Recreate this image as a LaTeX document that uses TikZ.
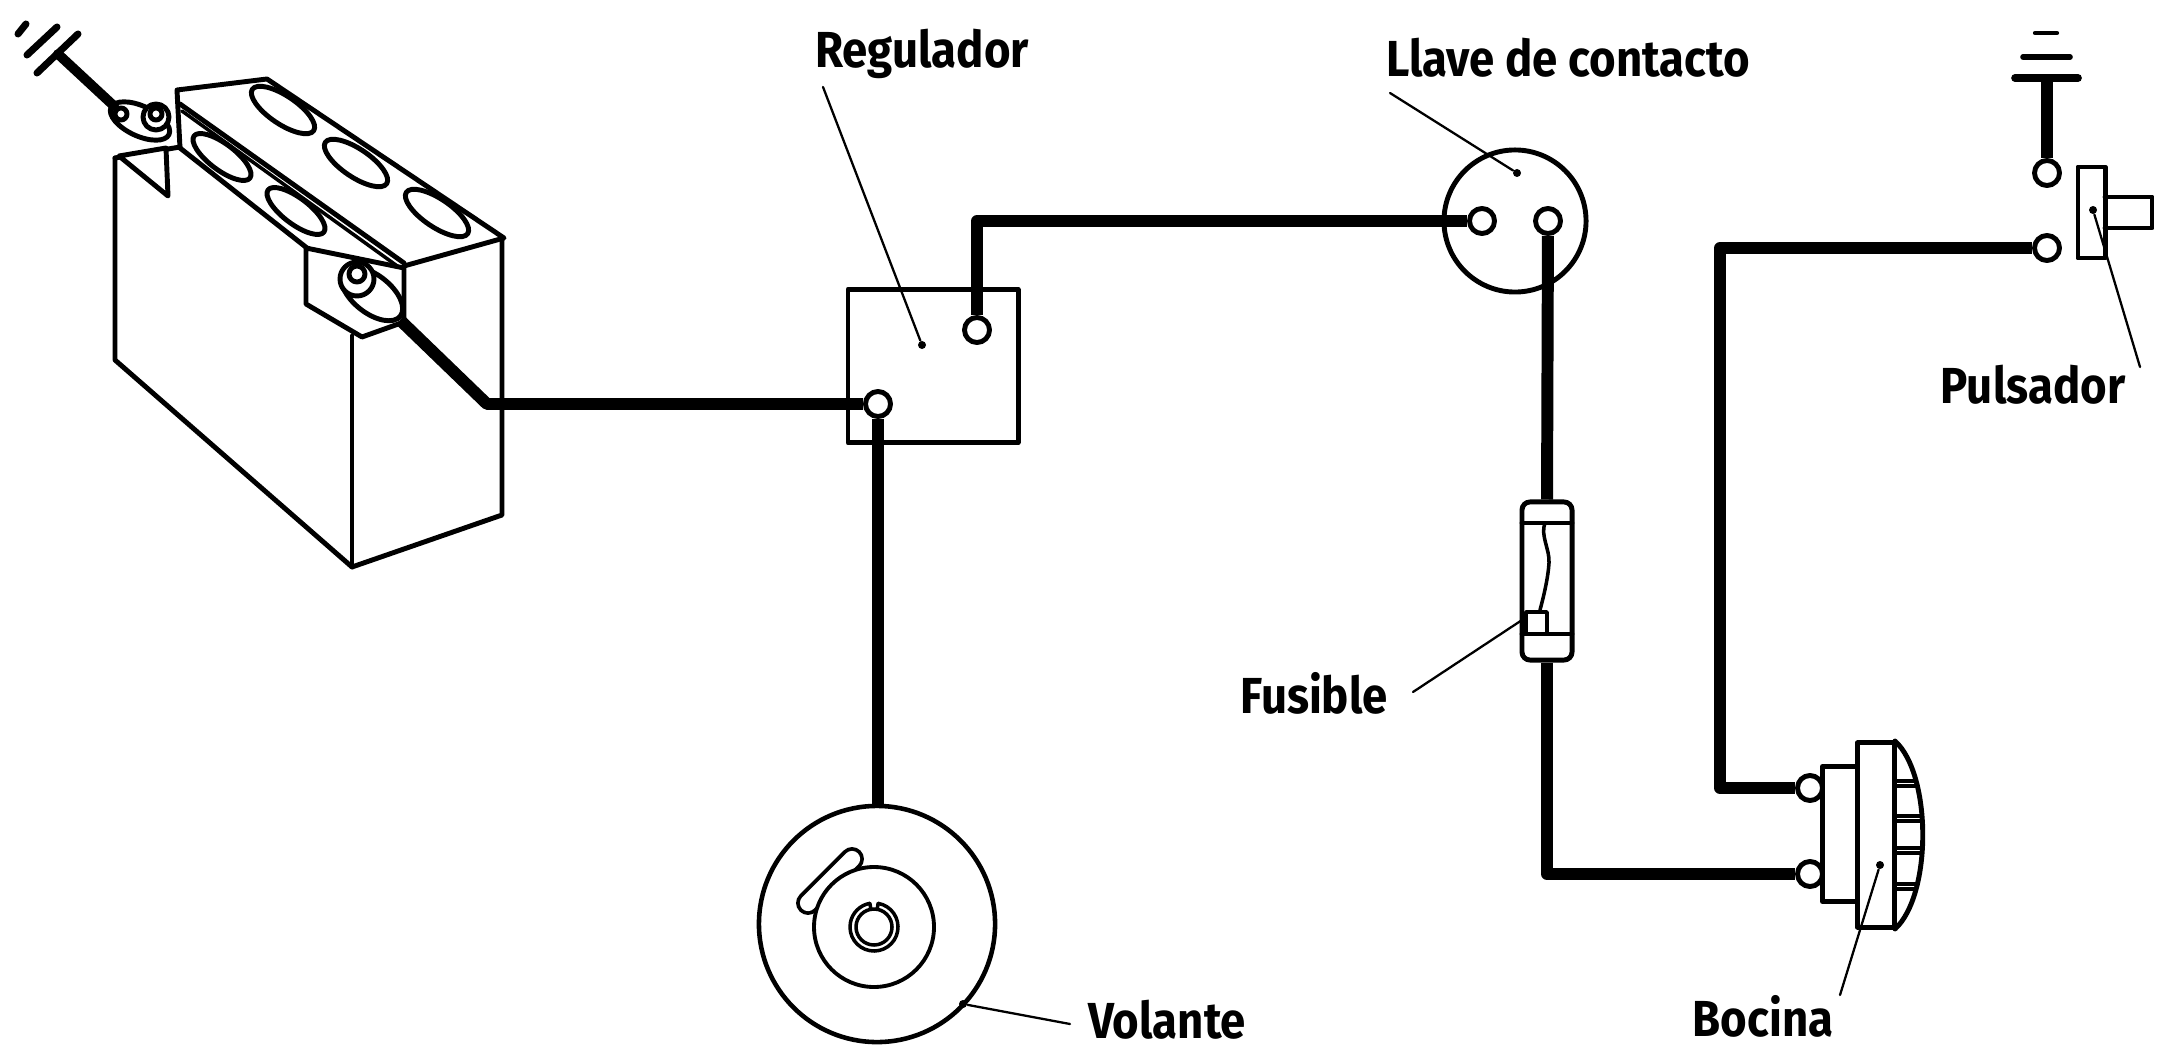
\documentclass[tikz,border=0pt]{standalone}
\usepackage{fontspec}
\setmainfont{Fira Sans}[FakeStretch=0.9]
\begin{document}
\begin{tikzpicture}[x=0.01cm,y=-0.01cm, line join=round, line cap=round,
  wire/.style={line width=3.4pt, line cap=butt},
  outl/.style={line width=1.4pt},
  thinl/.style={line width=1pt},
  leader/.style={line width=0.65pt},
  term/.style={circle, draw, fill=white, line width=1.4pt, minimum size=0.25cm, inner sep=0pt},
  lbl/.style={font=\fontsize{14.4}{16}\selectfont\bfseries, inner sep=0pt, anchor=base},
  tipdot/.style={circle, fill, minimum size=0.08cm, inner sep=0pt}]
\useasboundingbox (0,0) rectangle (2170,1049);

% ---------------- battery ----------------
% ground of the battery
\draw[line width=2pt] (26,24) -- (18,34);
\draw[line width=2pt] (57,27) -- (27,55);
\draw[line width=2pt] (78,34) -- (37,73);
\coordinate (batgnd) at (58,54);
% body
\draw[outl] (115,158) -- (115,360) -- (352,567) -- (502,515) -- (502,240);
\draw[outl] (352,336) -- (352,567);
\draw[outl] (115,158) -- (180,147);
% lid
\draw[outl] (180,148) -- (177,90) -- (267,79) -- (504,238) -- (404,266);
\draw[outl] (180,148) -- (307,248);
\draw[outl] (180,104) -- (404,263);
\draw[thinl] (182,111) -- (400,268);
% cell caps
\foreach \p in {(283,110),(356,163),(437,213)}
  \draw[outl, rotate around={-34:\p}] \p ellipse (37 and 14);
\foreach \p in {(222,157),(296,211)}
  \draw[outl, rotate around={-37:\p}] \p ellipse (35 and 13);
% terminal block with the live terminal
\draw[outl, fill=white] (306,248) -- (404,268) -- (404,322) -- (362,337) -- (306,304) -- cycle;
\draw[outl, fill=white, rotate around={-38:(372,294)}] (372,294) ellipse (36 and 19);
\draw[outl, fill=white] (357,279) circle (17);
\draw[outl, fill=white] (357,274) circle (8);
\coordinate (batpos) at (400,320);
% earth terminal
\draw[outl, fill=white] (119,156) -- (166,148) -- (168,196) -- cycle;
\draw[outl, fill=white, rotate around={-25:(140,121)}] (140,121) ellipse (32 and 15);
\draw[outl, fill=white] (121,114) circle (6);
\draw[outl, fill=white] (156,117) circle (13);
\draw[outl, fill=white] (156,114) circle (6);
\coordinate (batneg) at (114,106);
\draw[line width=2.8pt] (batgnd) -- (batneg);

% ---------------- regulator ----------------
\node[draw, line width=1.4pt, minimum width=1.7cm, minimum height=1.53cm, inner sep=0pt] (reg) at (933,366) {};
\node[term] (regA) at (878,404) {};
\node[term] (regB) at (977,330) {};
\node[tipdot] (regdot) at (922,345) {};

% ---------------- ignition switch ----------------
\node[draw, circle, line width=1.4pt, minimum size=1.42cm, inner sep=0pt] (sw) at (1515,221) {};
\node[term] (swA) at (1482,221) {};
\node[term] (swB) at (1548,221) {};
\node[tipdot] (swdot) at (1517,173) {};

% ---------------- fuse ----------------
\node[draw, rounded corners=0.08cm, line width=1.4pt, minimum width=0.5cm, minimum height=1.58cm, inner sep=0pt] (fuse) at (1547,581) {};
\draw[outl] (1522,523) -- (1572,523);
\draw[outl] (1522,634) -- (1572,634);
\draw[thinl] (1545,523) .. controls (1540,535) and (1550,550) .. (1549,563)
  .. controls (1548,578) and (1544,595) .. (1540,610);
\draw[thinl] (1526,612) rectangle (1547,634);

% ---------------- flywheel ----------------
\node[draw, circle, line width=1.3pt, minimum size=2.36cm, inner sep=0pt] (vol) at (877,924) {};
\draw[line width=6.8pt, line cap=round] (808,903) -- (852,859);
\draw[white, line width=4.6pt, line cap=round] (808,903) -- (852,859);
\draw[line width=1.1pt, fill=white] (874,927) circle (60);
\draw[thinl] (874,927) circle (18);
\draw[thinl] (874,927) ++(-80:24) arc[start angle=-80, end angle=260, radius=24];
\draw[thinl] (874,927) ++(-80:18) -- ++(-80:6);
\draw[thinl] (874,927) ++(-100:18) -- ++(-100:6);
\node[tipdot] (voldot) at (963,1004) {};

% ---------------- horn ----------------
\node[draw, line width=1.4pt, minimum width=0.35cm, minimum height=1.35cm, inner sep=0pt] (hornbase) at (1840,834) {};
\node[draw, line width=1.4pt, minimum width=0.37cm, minimum height=1.84cm, inner sep=0pt] (hornbody) at (1876,835) {};
\draw[outl] (1895,741) .. controls (1932,775) and (1932,895) .. (1895,929);
\begin{scope}
  \clip (1895,741) .. controls (1932,775) and (1932,895) .. (1895,929) -- cycle;
  \foreach \yy in {781,816,848,884} {
    \draw[thinl] (1890,\yy) -- (1940,\yy);
    \draw[thinl] (1890,\yy+5) -- (1940,\yy+5);
  }
\end{scope}
\node[term] (hornA) at (1810,788) {};
\node[term] (hornB) at (1810,874) {};
\node[tipdot] (horndot) at (1880,865) {};

% ---------------- horn push button ----------------
\draw[line width=1.2pt] (2035,33) -- (2057,33);
\draw[line width=1.6pt] (2023,57) -- (2070,57);
\draw[line width=2.2pt] (2015,78) -- (2078,78);
\coordinate (gndP) at (2047,78);
\node[term] (pulsA) at (2047,173) {};
\node[term] (pulsB) at (2047,248) {};
\node[draw, line width=1.4pt, minimum width=0.27cm, minimum height=0.91cm, inner sep=0pt] (puls) at (2091.5,212.5) {};
\draw[outl] (2105,197) -- (2152,197) -- (2152,228) -- (2105,228);
\node[tipdot] (pulsdot) at (2093,210) {};

% ---------------- wiring ----------------
\coordinate (batbend) at (487,404);
\coordinate (horncorner) at (1720,788);
\draw[wire] (batpos) -- (batbend) -- (regA);
\draw[wire] (regA) -- (regA |- vol.north);
\draw[wire] (regB) |- (swA);
\draw[wire] (swB) -- (fuse.north);
\draw[wire] (fuse.south) |- (hornB);
\draw[wire] (pulsB) -| (horncorner) -- (hornA);
\draw[wire] (gndP) -- (pulsA);

% ---------------- labels ----------------
\node[lbl] (lreg) at (922,68) {Regulador};
\node[lbl] (lsw) at (1568,77) {Llave de contacto};
\node[lbl] (lfuse) at (1314,713) {Fusible};
\node[lbl] (lvol) at (1167,1038) {Volante};
\node[lbl] (lhorn) at (1763,1036) {Bocina};
\node[lbl] (lpuls) at (2033,404) {Pulsador};

\coordinate (regend) at (823,87);
\coordinate (swend) at (1390,93);
\coordinate (fuseend) at (1413,692);
\coordinate (fusetip) at (1522,620);
\coordinate (volend) at (1070,1024);
\coordinate (hornend) at (1840,995);
\coordinate (pulsend) at (2140,367);
\draw[leader] (regend) -- (regdot);
\draw[leader] (swend) -- (swdot);
\draw[leader] (fuseend) -- (fusetip);
\draw[leader] (voldot) -- (volend);
\draw[leader] (horndot) -- (hornend);
\draw[leader] (pulsdot) -- (pulsend);
\end{tikzpicture}
\end{document}
